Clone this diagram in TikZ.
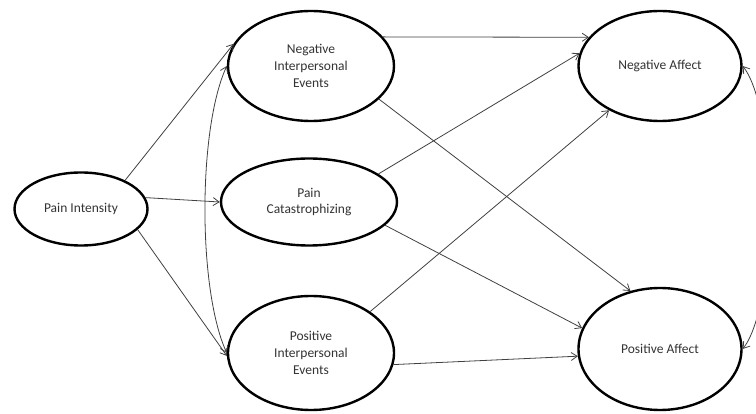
\documentclass[tikz,border=0pt]{standalone}
\usepackage{fontspec}
\setmainfont{Carlito}
\usetikzlibrary{positioning,shapes.geometric,arrows.meta}

\begin{document}
\begin{tikzpicture}[x=1pt, y=-1pt,
    latent/.style={draw, ellipse, line width=2.4pt, inner sep=0pt, align=center,
        font=\fontsize{13.5}{16.7}\selectfont, text=black!80},
    link/.style={draw=black!75, line width=0.8pt, -{Straight Barb[length=6pt,width=8pt]}},
    cov/.style={link, {Straight Barb[length=6pt,width=8pt]}-{Straight Barb[length=6pt,width=8pt]}}]

    \useasboundingbox (0,0) rectangle (756,414);

    % latent variables
    \node[latent, minimum width=133pt, minimum height=73pt] (pint) at (81,209) {Pain Intensity};
    \node[latent, minimum width=166pt, minimum height=110pt] (nie) at (311,66) {Negative\\Interpersonal\\Events};
    \node[latent, minimum width=176pt, minimum height=87pt] (pc) at (309,202) {Pain\\Catastrophizing};
    \node[latent, minimum width=166pt, minimum height=114pt] (pie) at (311,353) {Positive\\Interpersonal\\Events};
    \node[latent, minimum width=163pt, minimum height=110pt] (na) at (660,66) {Negative Affect};
    \node[latent, minimum width=163pt, minimum height=122pt] (pa) at (660,349) {Positive Affect};

    % paths
    \draw[link] (pint.33) -- (nie.164);
    \draw[link] (pint.10) -- (pc.west);
    \draw[link] (pint.-20) -- (pie.182);
    \draw[cov] (nie.west) .. controls +(-29,63) and +(-29,-63) .. (pie.west);

    \draw[link] (nie.22) -- (na.158);
    \draw[link] (nie.-26) -- (pa.117);
    \draw[link] (pc.22) -- (na.171);
    \draw[link] (pc.-17) -- (pa.165);
    \draw[link] (pie.35) -- (na.221);
    \draw[link] (pie.-8) -- (pa.185);

    \draw[cov] (na.east) .. controls +(35,45) and +(35,-45) .. (pa.east);
\end{tikzpicture}
\end{document}
